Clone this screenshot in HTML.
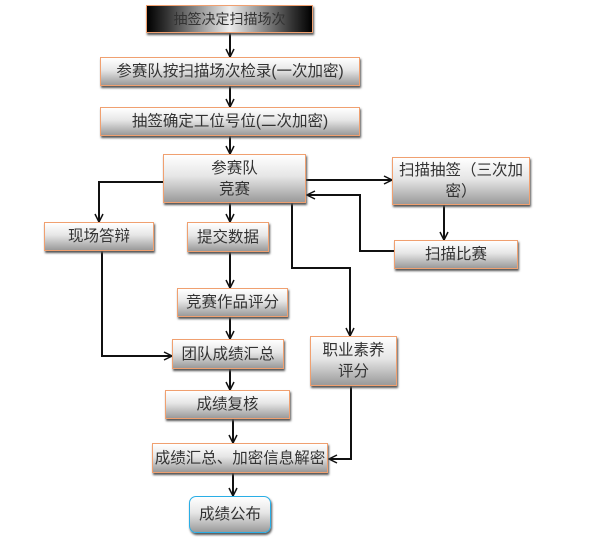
<!DOCTYPE html>
<html><head><meta charset="utf-8"><style>
body{margin:0;width:600px;height:542px;background:#fff;position:relative;overflow:hidden;font-family:"Liberation Sans","Noto Sans CJK SC",sans-serif;}
.b{position:absolute;box-sizing:border-box;border:1px solid #f0a070;background:linear-gradient(#ffffff 0%,#e6e6e6 45%,#9a9a9a 100%);box-shadow:1px 2px 2px #555;display:flex;align-items:center;justify-content:center;text-align:center;font-size:15.5px;color:#333;line-height:21px;white-space:nowrap;}
.dark{background:linear-gradient(90deg,#000 0%,#333 12%,#eee 50%,#333 88%,#000 100%);font-size:14px;}
svg{position:absolute;left:0;top:0;}
</style></head><body>
<svg width="600" height="542"><defs><marker id="a" markerWidth="10" markerHeight="10" refX="9" refY="5" orient="auto" markerUnits="userSpaceOnUse"><path d="M1,1 L9,5 L1,9" fill="none" stroke="#111" stroke-width="1.5"/></marker></defs>
<g stroke="#111" stroke-width="2" fill="none" marker-end="url(#a)">
<path d="M230 33V57"/><path d="M230 86V107"/><path d="M230 136V154"/>
<path d="M163 182H99V222"/><path d="M230 203V222"/><path d="M306 180H392"/>
<path d="M444 205V240"/><path d="M394 251H360V195H307"/>
<path d="M292 203V268H350V336"/><path d="M102 251V356H172"/>
<path d="M230 252V288"/><path d="M230 317V339"/><path d="M230 369V390"/>
<path d="M233 419V443"/><path d="M233 473V496"/><path d="M351 386V459H329"/>
</g></svg>
<div class="b dark" style="left:146px;top:5px;width:167px;height:28px;">抽签决定扫描场次</div>
<div class="b" style="left:100px;top:57px;width:260px;height:29px;">参赛队按扫描场次检录(一次加密)</div>
<div class="b" style="left:100px;top:107px;width:260px;height:29px;">抽签确定工位号位(二次加密)</div>
<div class="b" style="left:163px;top:154px;width:143px;height:49px;">参赛队<br>竞赛</div>
<div class="b" style="left:392px;top:157px;width:138px;height:48px;">扫描抽签（三次加<br>密）</div>
<div class="b" style="left:44px;top:222px;width:110px;height:29px;">现场答辩</div>
<div class="b" style="left:187px;top:222px;width:82px;height:30px;">提交数据</div>
<div class="b" style="left:394px;top:240px;width:124px;height:29px;">扫描比赛</div>
<div class="b" style="left:177px;top:288px;width:111px;height:29px;">竞赛作品评分</div>
<div class="b" style="left:172px;top:339px;width:112px;height:30px;">团队成绩汇总</div>
<div class="b" style="left:310px;top:336px;width:87px;height:50px;">职业素养<br>评分</div>
<div class="b" style="left:165px;top:390px;width:125px;height:29px;">成绩复核</div>
<div class="b" style="left:152px;top:443px;width:176px;height:30px;">成绩汇总、加密信息解密</div>
<div class="b" style="left:189px;top:496px;width:82px;height:37px;border:1.5px solid #29aee6;border-radius:7px;">成绩公布</div>
</body></html>
